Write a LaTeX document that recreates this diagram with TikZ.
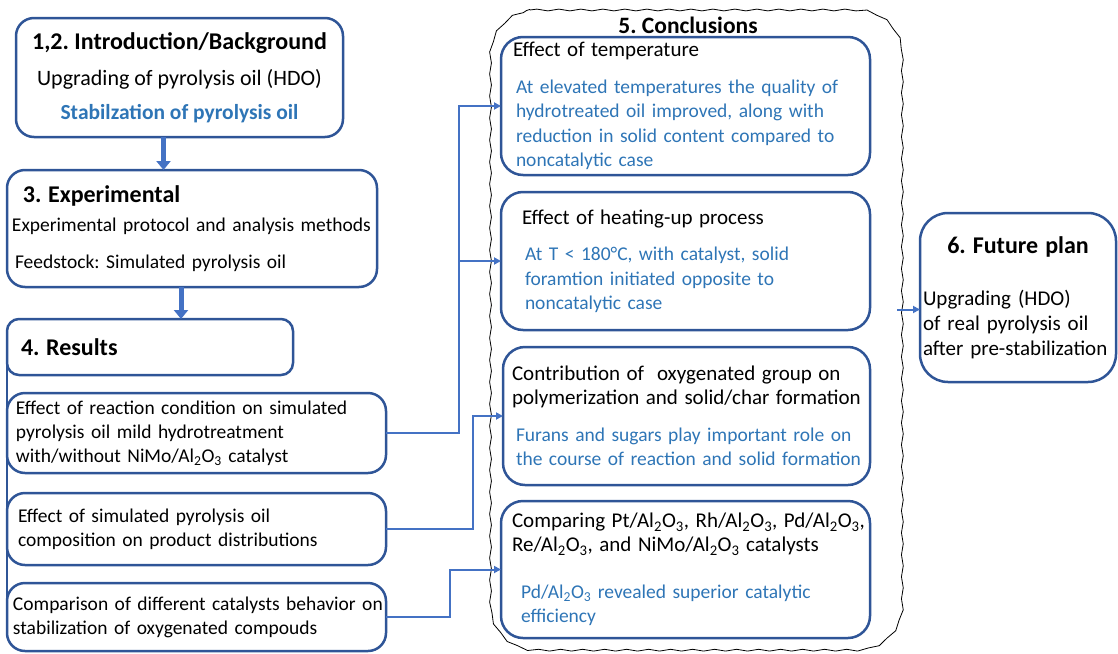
\documentclass[tikz,border=0pt]{standalone}
\usepackage{fontspec}
\setmainfont{Carlito}
\frenchspacing
\definecolor{boxblue}{HTML}{2F5597}
\definecolor{linkblue}{HTML}{4472C4}
\definecolor{textblue}{HTML}{2E75B6}
\usetikzlibrary{arrows.meta, positioning, decorations.pathmorphing, calc}
\newcommand{\alo}{Al\textsubscript{2}O\textsubscript{3}}
\newcommand{\bodyfont}{\fontsize{19.5}{24}\selectfont}
\newcommand{\bluefont}{\fontsize{19.5}{24.5}\selectfont}
\newcommand{\subhead}{\fontsize{21}{25}\selectfont}
\newcommand{\headfont}{\fontsize{24}{27}\selectfont\bfseries}

\begin{document}
\begin{tikzpicture}[x=1pt, y=-1pt,
   box/.style={draw=boxblue, line width=2.5pt, rounded corners=18pt, outer sep=0pt,
      anchor=north west, font=\bodyfont, inner ysep=0pt},
   conn/.style={-{Triangle[length=7pt, width=7pt]}, linkblue, line width=2pt},
   fat/.style={-{Triangle[length=9pt, width=14pt]}, linkblue, line width=5pt},
   blob/.style={draw=black, line width=0.8pt,
      decorate, decoration={snake, segment length=22pt, amplitude=0.9pt}}]
   \useasboundingbox (0,0) rectangle (1118,653);
   % Left column
   \node[box, minimum width=327pt, minimum height=119pt, align=center,
      font=\fontsize{22}{24}\selectfont] (intro) at (16,18)
      {{\headfont 1,2. Introduction/Background}\\[12pt]
       Upgrading of pyrolysis oil (HDO)\\[10pt]
       {\color{textblue}\bfseries\fontsize{21.5}{24}\selectfont Stabilzation of pyrolysis oil}};
   \node[box, minimum width=370pt, minimum height=117pt, text width=360pt, inner xsep=5pt,
      align=left] (exp) at (7,170)
      {\hspace*{11pt}{\headfont 3. Experimental}\\[5pt]
       Experimental protocol and analysis methods\\[13pt]
       \hspace*{3pt}Feedstock: Simulated pyrolysis oil};
   \node[box, rounded corners=12pt, minimum width=286pt, minimum height=56pt, text width=258pt,
      inner xsep=14pt, align=left] (res) at (7,319) {\headfont 4. Results};
   \node[box, minimum width=379pt, minimum height=80pt, text width=361pt, inner xsep=9pt,
      align=left] (r1) at (7,393)
      {Effect of reaction condition on simulated\\
       pyrolysis oil mild hydrotreatment\\
       with/without NiMo/\alo{} catalyst};
   \node[box, minimum width=379pt, minimum height=72pt, text width=357pt, inner xsep=11pt,
      align=left] (r2) at (7,493)
      {Effect of simulated pyrolysis oil\\
       composition on product distributions};
   \node[box, minimum width=379pt, minimum height=68pt, text width=377pt, inner xsep=1pt,
      align=left] (r3) at (7,583)
      {\hspace*{5pt}Comparison of different catalysts behavior on\\
       \hspace*{5pt}stabilization of oxygenated compouds};
   \draw[boxblue, line width=2.5pt] (res.west) -- (r3.west);
   % Flow arrows
   \draw[fat] ([xshift=-16pt]intro.south) -- ([xshift=-16pt]intro.south |- exp.north);
   \draw[fat] ([xshift=-11pt]exp.south) -- ([xshift=-11pt]exp.south |- res.north);
   % Conclusions
   \node[minimum width=412pt, minimum height=640pt, outer sep=0pt] (concl) at (691,330) {};
   \draw[blob] (530,10) -- (852,10) .. controls (877,10) and (897,30) .. (897,55)
      -- (897,605) .. controls (897,630) and (877,650) .. (852,650)
      -- (530,650) .. controls (505,650) and (485,630) .. (485,605)
      -- (485,55) .. controls (485,30) and (505,10) .. (530,10) -- cycle;
   \node[font=\fontsize{23.5}{27}\selectfont\bfseries] (conchead) at (688,25) {5. Conclusions};
   \node[box, rounded corners=22pt, minimum width=369pt, minimum height=138pt, text width=345pt,
      inner xsep=12pt, align=left] (c1) at (501,37)
      {{\subhead Effect of temperature}\\[12pt]
       {\bluefont\color{textblue}\hspace*{3pt}At elevated temperatures the quality of\\
       \hspace*{3pt}hydrotreated oil improved, along with\\
       \hspace*{3pt}reduction in solid content compared to\\
       \hspace*{3pt}noncatalytic case}};
   \node[box, rounded corners=22pt, minimum width=369pt, minimum height=138pt, text width=345pt,
      inner xsep=12pt, align=left] (c2) at (501,192)
      {{\subhead \hspace*{9pt}Effect of heating-up process}\\[12pt]
       {\bluefont\color{textblue}\hspace*{12pt}At T < 180°C, with catalyst, solid\\
       \hspace*{12pt}foramtion initiated opposite to\\
       \hspace*{12pt}noncatalytic case}};
   \node[box, rounded corners=22pt, minimum width=367pt, minimum height=138pt, text width=359pt,
      inner xsep=4pt, align=left] (c3) at (503,347)
      {{\subhead \hspace*{5pt}Contribution of~ oxygenated group on\\
       \hspace*{5pt}polymerization and solid/char formation}\\[13pt]
       {\bluefont\color{textblue}\hspace*{9pt}Furans and sugars play important role on\\
       \hspace*{9pt}the course of reaction and solid formation}};
   \node[box, rounded corners=22pt, minimum width=369pt, minimum height=137pt, text width=361pt,
      inner xsep=4pt, align=left] (c4) at (501,501)
      {{\subhead \hspace*{7pt}Comparing Pt/\alo, Rh/\alo, Pd/\alo,\\
       \hspace*{7pt}Re/\alo, and NiMo/\alo{} catalysts}\\[22pt]
       {\bluefont\color{textblue}\hspace*{16pt}Pd/\alo{} revealed superior catalytic\\
       \hspace*{16pt}efficiency}};
   % Result links
   \draw[conn] (r1.east) -- ++(73,0) coordinate (bus1) |- (c1.west);
   \draw[conn] (bus1) |- (c2.west);
   \draw[conn] (r2.east) -- ++(87,0) |- (c3.west);
   \draw[conn] (r3.east) -- ++(64,0) |- (c4.west);
   % Future plan
   \node[box, rounded corners=28pt, minimum width=196pt, minimum height=169pt, text width=190pt,
      inner xsep=3pt, align=left, font=\fontsize{21}{25}\selectfont] (fut) at (920,213)
      {\makebox[\linewidth]{\headfont 6. Future plan}\\[27pt]
       Upgrading (HDO)\\
       of real pyrolysis oil\\
       after pre-stabilization};
   \coordinate (futin) at ([yshift=-12pt]fut.west);
   \draw[conn] (concl.east |- futin) -- (futin);
\end{tikzpicture}
\end{document}
